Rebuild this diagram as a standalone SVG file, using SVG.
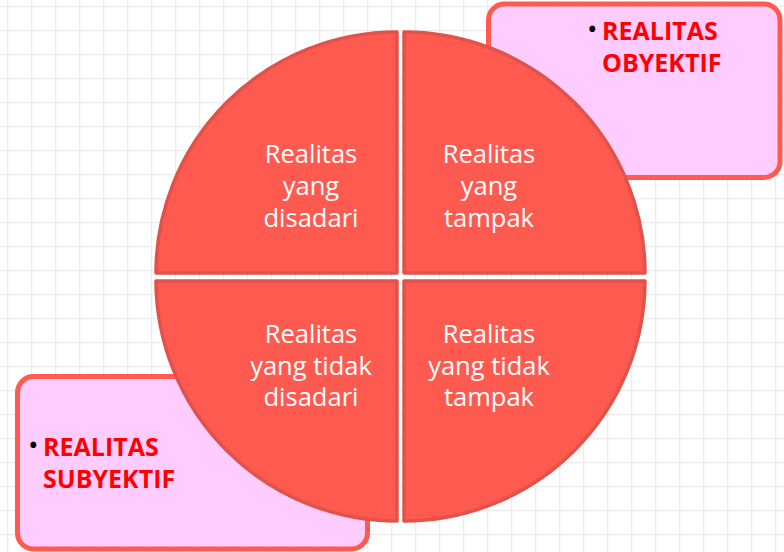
<svg xmlns="http://www.w3.org/2000/svg" width="784" height="552" viewBox="0 0 784 552">
  <defs>
    <pattern id="grid" x="7" y="6" width="24" height="24" patternUnits="userSpaceOnUse">
      <path d="M0.5,0 V24 M0,0.5 H24" fill="none" stroke="#EBEBEB" stroke-width="1.6"/>
    </pattern>
  </defs>
  <style>
    .box { fill: #FFCCFF; stroke: #FF5A50; stroke-width: 5; }
    .quad { fill: #FF5A4F; stroke: #E0524A; stroke-width: 3.5; stroke-linejoin: round; }
    .qt { font-family: "Open Sans", "Liberation Sans", sans-serif; font-size: 25.5px; fill: #FFFFFF; text-anchor: middle; }
    .bt { font-family: "Open Sans", "Liberation Sans", sans-serif; font-size: 25px; font-weight: bold; fill: #FF0000; }
    .bul { font-family: "Open Sans", "Liberation Sans", sans-serif; font-size: 28px; fill: #000000; }
  </style>
  <rect width="784" height="552" fill="#FFFFFF"/>
  <rect width="784" height="552" fill="url(#grid)"/>

  <g id="box-obyektif">
    <rect class="box" x="488.5" y="4" width="291.5" height="173.5" rx="16"/>
    <text class="bul" x="587" y="39">•</text>
    <text class="bt" x="602" y="40">REALITAS</text>
    <text class="bt" x="602" y="72">OBYEKTIF</text>
  </g>

  <g id="box-subyektif">
    <rect class="box" x="17.5" y="376.5" width="350" height="172.5" rx="16"/>
    <text class="bul" x="28" y="455">•</text>
    <text class="bt" x="43" y="456">REALITAS</text>
    <text class="bt" x="43" y="488">SUBYEKTIF</text>
  </g>

  <g id="q-disadari">
    <path class="quad" d="M397,273 L156,273 A241,241 0 0 1 397,32 Z"/>
    <text class="qt" x="311" y="163">Realitas</text>
    <text class="qt" x="311" y="195">yang</text>
    <text class="qt" x="311" y="227">disadari</text>
  </g>

  <g id="q-tampak">
    <path class="quad" d="M404,273 L404,32 A241,241 0 0 1 645,273 Z"/>
    <text class="qt" x="489" y="163">Realitas</text>
    <text class="qt" x="489" y="195">yang</text>
    <text class="qt" x="489" y="227">tampak</text>
  </g>

  <g id="q-tidak-disadari">
    <path class="quad" d="M397,281 L397,521 A241,241 0 0 1 156,281 Z"/>
    <text class="qt" x="311" y="343">Realitas</text>
    <text class="qt" x="311" y="375">yang tidak</text>
    <text class="qt" x="311" y="406">disadari</text>
  </g>

  <g id="q-tidak-tampak">
    <path class="quad" d="M404,281 L645,281 A241,241 0 0 1 404,521 Z"/>
    <text class="qt" x="489" y="343">Realitas</text>
    <text class="qt" x="489" y="375">yang tidak</text>
    <text class="qt" x="489" y="406">tampak</text>
  </g>

  <g id="connectors"></g>
</svg>
